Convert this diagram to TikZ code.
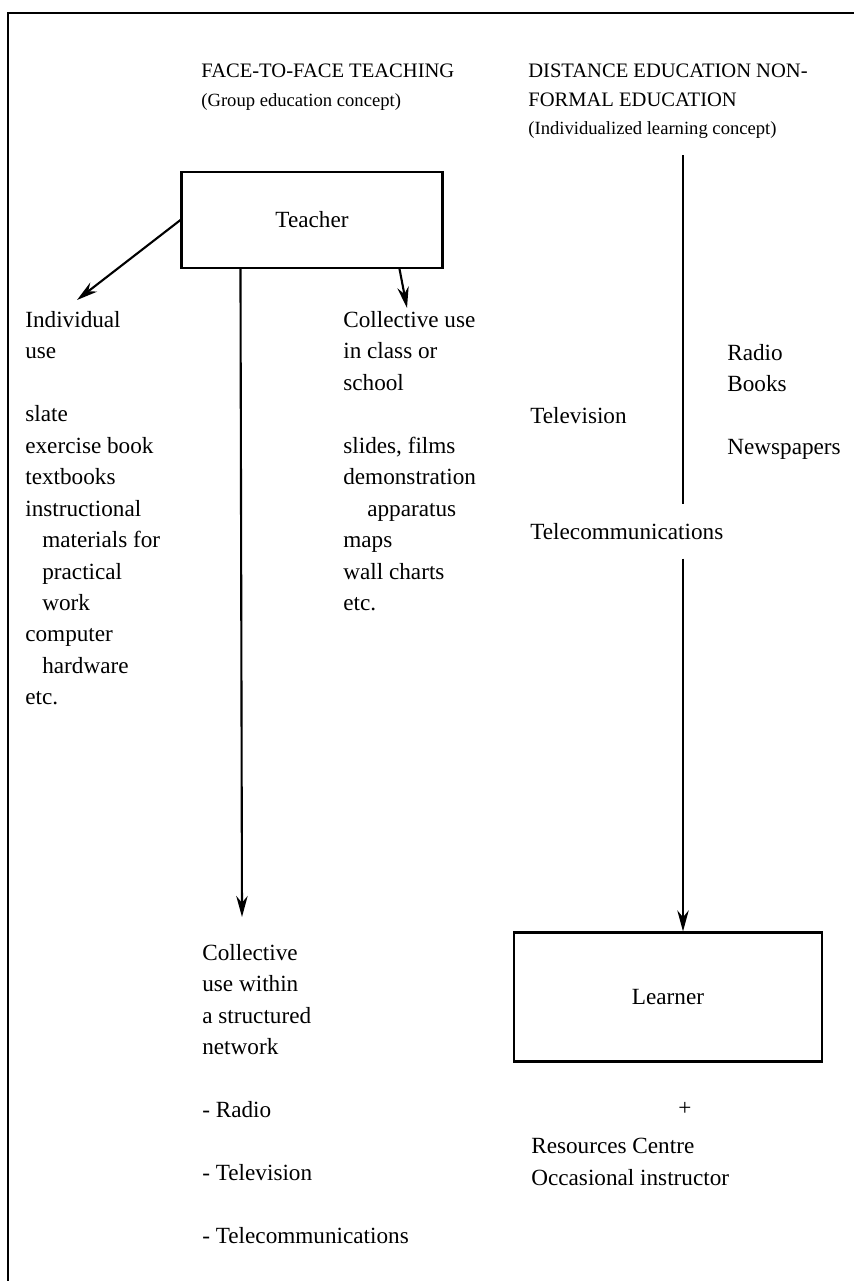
\documentclass[tikz,border=0pt]{standalone}
\usepackage{fontspec}
\setmainfont{Liberation Serif}
\usetikzlibrary{calc}
\usetikzlibrary{arrows.meta}

\tikzset{
  txt/.style={inner sep=0pt, align=left, anchor=north west, font=\fontsize{13.2}{17.9}\selectfont},
  head/.style={inner sep=0pt, align=left, anchor=north west, font=\fontsize{11.7}{16.4}\selectfont},
  sub/.style={inner sep=0pt, anchor=base west, font=\fontsize{10.6}{14}\selectfont},
  box/.style={draw, line width=1.2pt, inner sep=0pt, font=\fontsize{13.2}{17.9}\selectfont},
  arr/.style={line width=1.2pt, -{Stealth[length=12pt,width=6.5pt]}}
}

\begin{document}
\begin{tikzpicture}[x=0.02cm, y=-0.02cm]
\useasboundingbox (0,0) rectangle (854,1281);
% frame
\draw[line width=1.2pt] (8,1281) -- (8,13) -- (854,13);

% headings
\node[head] (fhead) at (201,64) {FACE-TO-FACE TEACHING};
\node[sub]  (fsub)  at (201,106) {(Group education concept)};
\node[head] (dhead) at (528,64) {DISTANCE EDUCATION NON-\\FORMAL EDUCATION};
\node[sub]  (dsub)  at (528,134) {(Individualized learning concept)};

% boxes
\node[box, minimum width=5.22cm, minimum height=1.92cm] (teacher) at (312,220) {Teacher};
\node[box, minimum width=6.16cm, minimum height=2.58cm] (learner) at (668,997) {Learner};

% face-to-face columns
\node[txt] (indiv) at (25,311) {Individual\\ use\\[17.9pt] slate\\ exercise book\\ textbooks\\ instructional\\
  \hspace*{0.34cm}materials for\\ \hspace*{0.34cm}practical\\ \hspace*{0.34cm}work\\ computer\\
  \hspace*{0.34cm}hardware\\ etc.};
\node[txt] (coll) at (343,311) {Collective use\\ in class or\\ school\\[17.9pt] slides, films\\ demonstration\\
  \hspace*{0.48cm}apparatus\\ maps\\ wall charts\\ etc.};
\node[txt] (netw) at (202,944) {Collective\\ use within\\ a structured\\ network\\[17.9pt] - Radio\\[17.9pt]
  - Television\\[17.9pt] - Telecommunications};

% distance media
\node[txt] (media) at (727,344) {Radio\\ Books\\[17.9pt] Newspapers};
\node[txt, anchor=base west] (tv) at (530,423) {Television};
\node[txt, anchor=base west] (telecom) at (530,539) {Telecommunications};
\node[txt, anchor=center] (plus) at (685,1109) {+};
\node[txt] (res) at (531,1138) {Resources Centre\\ Occasional instructor};

% arrows
\coordinate (dtop) at (683,155);
\draw[arr] (teacher.west) -- ($(indiv.north west)+(52,-11)$);
\draw[arr] ($(teacher.south east)+(-44,0)$) -- ($(coll.north west)+(64,-3)$);
\draw[arr] ($(teacher.south west)+(60,0)$) -- ($(netw.north west)+(40,-27)$);
\draw[line width=1.2pt] (dtop) -- ($(telecom.north -| dtop)+(0,-19)$);
\draw[arr] ($(telecom.south -| dtop)+(0,19)$) -- (learner.north -| dtop);
\end{tikzpicture}
\end{document}
